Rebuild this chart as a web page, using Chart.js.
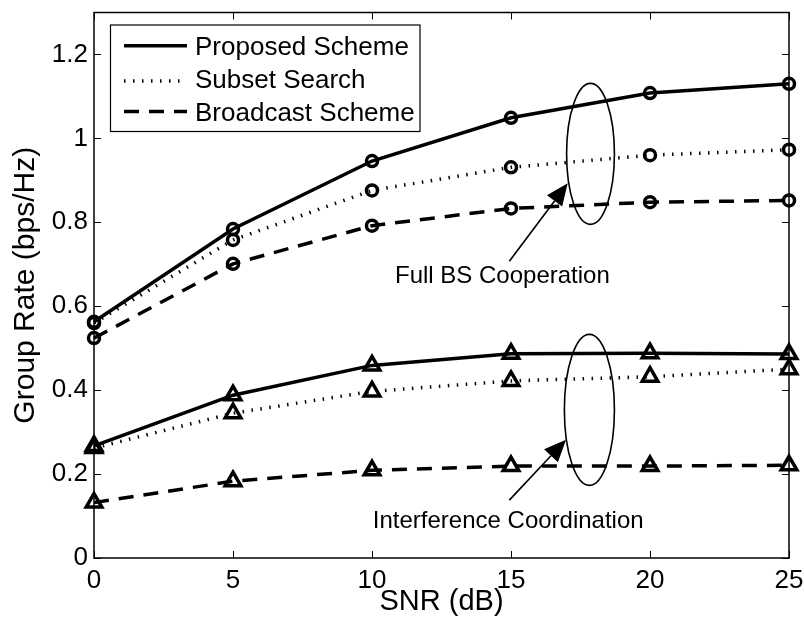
<!DOCTYPE html>
<html>
<head>
<meta charset="utf-8">
<script src="https://cdn.jsdelivr.net/npm/chart.js@4.4.1/dist/chart.umd.min.js"></script>
<style>
  html, body { margin: 0; padding: 0; background: #ffffff; }
  #wrap { width: 804px; height: 625px; }
</style>
</head>
<body>
<div id="wrap"><canvas id="c" width="804" height="625"></canvas></div>
<script>
// SNR sweep (dB)
const snr = [0, 5, 10, 15, 20, 25];

// Group rate (bps/Hz), full BS cooperation
const fullProposed  = [0.563, 0.784, 0.946, 1.049, 1.108, 1.130];
const fullSubset    = [0.560, 0.758, 0.876, 0.931, 0.960, 0.973];
const fullBroadcast = [0.524, 0.701, 0.792, 0.833, 0.848, 0.852];

// Group rate (bps/Hz), interference coordination
const icProposed  = [0.267, 0.388, 0.459, 0.487, 0.488, 0.486];
const icSubset    = [0.262, 0.345, 0.397, 0.422, 0.432, 0.450];
const icBroadcast = [0.132, 0.183, 0.209, 0.219, 0.219, 0.221];

const xTickValues = [0, 5, 10, 15, 20, 25];
const xTickLabels = ['0', '5', '10', '15', '20', '25'];
const yTickValues = [0, 0.2, 0.4, 0.6, 0.8, 1, 1.2];
const yTickLabels = ['0', '0.2', '0.4', '0.6', '0.8', '1', '1.2'];

const schemeNames = ['Proposed Scheme', 'Subset Search', 'Broadcast Scheme'];
const groupLabels = ['Full BS Cooperation', 'Interference Coordination'];

const FONT = "'Liberation Sans', Arial, Helvetica, sans-serif";

// Line style for each scheme
const schemeStyles = [
  { borderWidth: 3.5, borderDash: [] },
  { borderWidth: 3.5, borderDash: [1.5, 7.5] },
  { borderWidth: 3.5, borderDash: [15, 10] }
];

function toPoints(ys) { return snr.map((x, i) => ({ x: x, y: ys[i] })); }

function makeSet(label, ys, schemeIdx, marker) {
  const st = schemeStyles[schemeIdx];
  return {
    label: label,
    data: toPoints(ys),
    borderColor: '#000',
    backgroundColor: 'rgba(0,0,0,0)',
    borderWidth: st.borderWidth,
    borderDash: st.borderDash,
    tension: 0,
    pointStyle: marker,
    pointRadius: marker === 'circle' ? 5.5 : 9,
    pointBorderWidth: 3.5,
    pointBorderColor: '#000',
    pointBackgroundColor: 'rgba(0,0,0,0)',
    clip: false
  };
}

const datasets = [
  makeSet(schemeNames[0], fullProposed, 0, 'circle'),
  makeSet(schemeNames[1], fullSubset, 1, 'circle'),
  makeSet(schemeNames[2], fullBroadcast, 2, 'circle'),
  makeSet(schemeNames[0], icProposed, 0, 'triangle'),
  makeSet(schemeNames[1], icSubset, 1, 'triangle'),
  makeSet(schemeNames[2], icBroadcast, 2, 'triangle')
];

// Ellipses grouping the curves, arrows and group captions (in data units)
const groupEllipses = [
  { cx: 17.86, cy: 0.963, rx: 0.86, ry: 0.168 },
  { cx: 17.82, cy: 0.353, rx: 0.90, ry: 0.180 }
];
const groupArrows = [
  { x0: 14.94, y0: 0.707, x1: 17.04, y1: 0.893 },
  { x0: 14.94, y0: 0.138, x1: 16.98, y1: 0.282 }
];
const groupCaptions = [
  { x: 14.69, y: 0.6555 },
  { x: 14.90, y: 0.0705 }
];

const framePlugin = {
  id: 'frame',
  afterDatasetsDraw(chart) {
    const ctx = chart.ctx;
    const a = chart.chartArea;
    const xs = chart.scales.x, ys = chart.scales.y;
    ctx.save();

    // axes box
    ctx.strokeStyle = '#000';
    ctx.lineWidth = 1.5;
    ctx.setLineDash([]);
    ctx.strokeRect(a.left, a.top, a.right - a.left, a.bottom - a.top);

    // inward tick marks on all four sides
    const tl = 7;
    ctx.lineWidth = 1;
    ctx.beginPath();
    xTickValues.forEach(v => {
      const px = Math.round(xs.getPixelForValue(v)) + 0.5;
      ctx.moveTo(px, a.bottom); ctx.lineTo(px, a.bottom - tl);
      ctx.moveTo(px, a.top); ctx.lineTo(px, a.top + tl);
    });
    yTickValues.forEach(v => {
      const py = Math.round(ys.getPixelForValue(v)) + 0.5;
      ctx.moveTo(a.left, py); ctx.lineTo(a.left + tl, py);
      ctx.moveTo(a.right, py); ctx.lineTo(a.right - tl, py);
    });
    ctx.stroke();

    // ellipses
    ctx.lineWidth = 1.6;
    groupEllipses.forEach(e => {
      const cx = xs.getPixelForValue(e.cx), cy = ys.getPixelForValue(e.cy);
      const rx = Math.abs(xs.getPixelForValue(e.cx + e.rx) - cx);
      const ry = Math.abs(ys.getPixelForValue(e.cy + e.ry) - cy);
      ctx.beginPath();
      ctx.ellipse(cx, cy, rx, ry, 0, 0, Math.PI * 2);
      ctx.stroke();
    });

    // arrows with filled heads
    groupArrows.forEach(ar => {
      const x0 = xs.getPixelForValue(ar.x0), y0 = ys.getPixelForValue(ar.y0);
      const x1 = xs.getPixelForValue(ar.x1), y1 = ys.getPixelForValue(ar.y1);
      const ang = Math.atan2(y1 - y0, x1 - x0);
      const hl = 22, hw = 9.5;
      const bx = x1 - hl * Math.cos(ang), by = y1 - hl * Math.sin(ang);
      ctx.lineWidth = 1.6;
      ctx.beginPath();
      ctx.moveTo(x0, y0); ctx.lineTo(bx, by);
      ctx.stroke();
      ctx.fillStyle = '#000';
      ctx.beginPath();
      ctx.moveTo(x1, y1);
      ctx.lineTo(bx + hw * Math.sin(ang), by - hw * Math.cos(ang));
      ctx.lineTo(bx - hw * Math.sin(ang), by + hw * Math.cos(ang));
      ctx.closePath();
      ctx.fill();
    });

    // group captions
    ctx.fillStyle = '#000';
    ctx.font = '24px ' + FONT;
    ctx.textAlign = 'center';
    ctx.textBaseline = 'alphabetic';
    groupCaptions.forEach((c, i) => {
      ctx.fillText(groupLabels[i], xs.getPixelForValue(c.x), ys.getPixelForValue(c.y));
    });

    // legend
    const lx = a.left + 16.5, ly = a.top + 12.5, lw = 309.5, lh = 106.5;
    ctx.fillStyle = '#fff';
    ctx.fillRect(lx, ly, lw, lh);
    ctx.strokeStyle = '#000';
    ctx.lineWidth = 1.2;
    ctx.setLineDash([]);
    ctx.strokeRect(lx, ly, lw, lh);
    const rowLine = [33.3, 68.5, 99];
    const rowBase = [42.3, 75, 108.3];
    ctx.font = '26px ' + FONT;
    ctx.textAlign = 'left';
    ctx.fillStyle = '#000';
    schemeNames.forEach((name, i) => {
      const st = schemeStyles[i];
      ctx.lineWidth = st.borderWidth;
      ctx.setLineDash(st.borderDash);
      ctx.beginPath();
      ctx.moveTo(a.left + 30, a.top + rowLine[i]);
      ctx.lineTo(a.left + 93, a.top + rowLine[i]);
      ctx.stroke();
      ctx.setLineDash([]);
      ctx.fillText(name, a.left + 101, a.top + rowBase[i]);
    });
    ctx.restore();
  }
};

new Chart(document.getElementById('c'), {
  type: 'line',
  data: { datasets: datasets },
  options: {
    responsive: false,
    devicePixelRatio: 1,
    animation: false,
    events: [],
    layout: { padding: { left: 0, top: 10, right: 15, bottom: 0 } },
    plugins: { legend: { display: false }, tooltip: { enabled: false } },
    scales: {
      x: {
        type: 'linear', min: 0, max: 25,
        afterBuildTicks: s => { s.ticks = xTickValues.map(v => ({ value: v })); },
        afterFit: s => { s.height = 67; s.paddingLeft = 0; s.paddingRight = 0; },
        ticks: {
          color: '#000', font: { family: FONT, size: 26 }, padding: 7,
          maxRotation: 0, autoSkip: false,
          callback: (v, i) => xTickLabels[i]
        },
        grid: { display: false, drawTicks: false },
        border: { display: false },
        title: {
          display: true, text: 'SNR (dB)', color: '#000',
          font: { family: FONT, size: 29, lineHeight: 1 },
          padding: { top: 0, bottom: 9 }
        }
      },
      y: {
        type: 'linear', min: 0, max: 1.3,
        afterBuildTicks: s => { s.ticks = yTickValues.map(v => ({ value: v })); },
        afterFit: s => { s.width = 94; s.paddingTop = 0; s.paddingBottom = 0; },
        ticks: {
          color: '#000', font: { family: FONT, size: 26 }, padding: 6,
          autoSkip: false,
          callback: (v, i) => yTickLabels[i]
        },
        grid: { display: false, drawTicks: false },
        border: { display: false },
        title: {
          display: true, text: 'Group Rate (bps/Hz)', color: '#000',
          font: { family: FONT, size: 30, lineHeight: 1 },
          padding: { top: 11, bottom: 0 }
        }
      }
    }
  },
  plugins: [framePlugin]
});
</script>
</body>
</html>
